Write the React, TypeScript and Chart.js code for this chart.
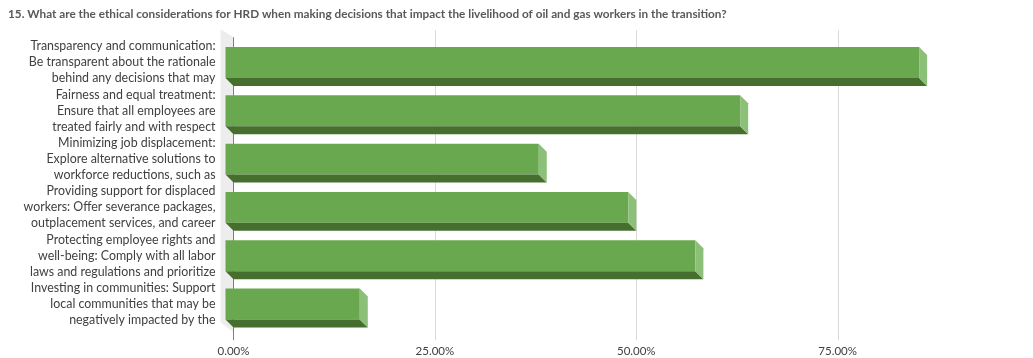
import React, { useEffect, useRef } from "react";
import { Chart, registerables } from "chart.js";

Chart.register(...registerables);

const titleText =
  "15. What are the ethical considerations for HRD when making decisions that impact the livelihood of oil and gas workers in the transition?";

const categories: string[][] = [
  ["Transparency and communication:", "Be transparent about the rationale", "behind any decisions that may"],
  ["Fairness and equal treatment:", "Ensure that all employees are", "treated fairly and with respect"],
  ["Minimizing job displacement:", "Explore alternative solutions to", "workforce reductions, such as"],
  ["Providing support for displaced", "workers: Offer severance packages,", "outplacement services, and career"],
  ["Protecting employee rights and", "well-being: Comply with all labor", "laws and regulations and prioritize"],
  ["Investing in communities: Support", "local communities that may be", "negatively impacted by the"],
];

const values: number[] = [0.8611, 0.6389, 0.3889, 0.5, 0.5833, 0.1667];

const xTickValues: number[] = [0, 0.25, 0.5, 0.75];
const xMax = 0.9925;

const FONT = "Lato";
const DX = 8;
const DY = 8;

const threeD = {
  id: "threeD",
  beforeDatasetsDraw(chart: any) {
    const { ctx, chartArea } = chart;
    const x = chart.scales.x;
    const x0 = x.getPixelForValue(0);
    ctx.save();
    // side wall
    ctx.fillStyle = "#ededed";
    ctx.beginPath();
    ctx.moveTo(x0 - 13, chartArea.top - 9);
    ctx.lineTo(x0, chartArea.top - 1);
    ctx.lineTo(x0, chartArea.bottom + 4);
    ctx.lineTo(x0 - 13, chartArea.bottom - 6);
    ctx.closePath();
    ctx.fill();
    // gridlines
    ctx.strokeStyle = "#d9d9d9";
    ctx.lineWidth = 1;
    xTickValues.forEach((v) => {
      if (v === 0) return;
      const px = Math.round(x.getPixelForValue(v)) + 0.5;
      ctx.beginPath();
      ctx.moveTo(px, chartArea.top - 8);
      ctx.lineTo(px, chartArea.bottom + 12);
      ctx.stroke();
    });
    // value axis line at zero
    ctx.strokeStyle = "#7f7f7f";
    const ax = Math.round(x0) - 0.5;
    ctx.beginPath();
    ctx.moveTo(ax, chartArea.top - 1);
    ctx.lineTo(ax, chartArea.bottom + 12);
    ctx.stroke();
    ctx.restore();
    ctx.save();
    ctx.translate(-DX, 0);
  },
  afterDatasetsDraw(chart: any) {
    const { ctx } = chart;
    ctx.restore();
    const meta = chart.getDatasetMeta(0);
    ctx.save();
    meta.data.forEach((bar: any) => {
      const { x, y, base, height } = bar.getProps(["x", "y", "base", "height"], true);
      const fx0 = base - DX;
      const fx1 = x - DX;
      const top = y - height / 2;
      const bottom = y + height / 2;
      // bottom face
      ctx.fillStyle = "#466f2f";
      ctx.beginPath();
      ctx.moveTo(fx0, bottom);
      ctx.lineTo(fx1, bottom);
      ctx.lineTo(fx1 + DX, bottom + DY);
      ctx.lineTo(fx0 + DX, bottom + DY);
      ctx.closePath();
      ctx.fill();
      // side face
      ctx.fillStyle = "#8cbf78";
      ctx.beginPath();
      ctx.moveTo(fx1, top);
      ctx.lineTo(fx1 + DX, top + DY);
      ctx.lineTo(fx1 + DX, bottom + DY);
      ctx.lineTo(fx1, bottom);
      ctx.closePath();
      ctx.fill();
    });
    ctx.restore();
  },
};

export default function App() {
  const ref = useRef<HTMLCanvasElement | null>(null);
  useEffect(() => {
    document.body.style.margin = "0";
    const canvas = ref.current;
    if (!canvas) return;
    const chart = new Chart(canvas, {
      type: "bar",
      data: {
        labels: categories,
        datasets: [
          {
            data: values,
            backgroundColor: "#6aa84f",
            borderWidth: 0,
            barPercentage: 0.64,
            categoryPercentage: 1,
            clip: false as any,
          },
        ],
      },
      options: {
        indexAxis: "y",
        animation: false,
        responsive: false,
        devicePixelRatio: 1,
        layout: { padding: { left: 8, right: 0, top: 0, bottom: 0 } },
        plugins: {
          legend: { display: false },
          tooltip: { enabled: false },
          title: {
            display: true,
            text: titleText,
            align: "start",
            color: "#595959",
            font: { family: FONT, size: 11.75, weight: "bold", lineHeight: 1.2 },
            padding: { top: 7, bottom: 17.2 },
          },
        },
        scales: {
          x: {
            min: 0,
            max: xMax,
            afterBuildTicks: (s: any) => {
              s.ticks = xTickValues.map((v) => ({ value: v }));
            },
            afterFit: (s: any) => {
              s.height = 29.8;
              s.paddingLeft = 0;
              s.paddingRight = 0;
            },
            grid: { display: false, drawTicks: false },
            border: { display: false },
            ticks: {
              padding: 16,
              color: "#404040",
              font: { family: FONT, size: 11.5 },
              maxRotation: 0,
              autoSkip: false,
              callback: (v: any) => (Number(v) * 100).toFixed(2) + "%",
            },
          },
          y: {
            afterFit: (s: any) => {
              s.width = 225.5;
              s.paddingTop = 0;
              s.paddingBottom = 0;
            },
            grid: { display: false, drawTicks: false },
            border: { display: false },
            ticks: {
              padding: 18,
              color: "#404040",
              autoSkip: false,
              font: { family: FONT, size: 12.4, lineHeight: 16 / 12.4 },
            },
          },
        },
      },
      plugins: [threeD],
    });
    return () => chart.destroy();
  }, []);
  return (
    <div style={{ width: 1033, height: 358 }}>
      <canvas ref={ref} width={1033} height={358} style={{ display: "block" }} />
    </div>
  );
}
